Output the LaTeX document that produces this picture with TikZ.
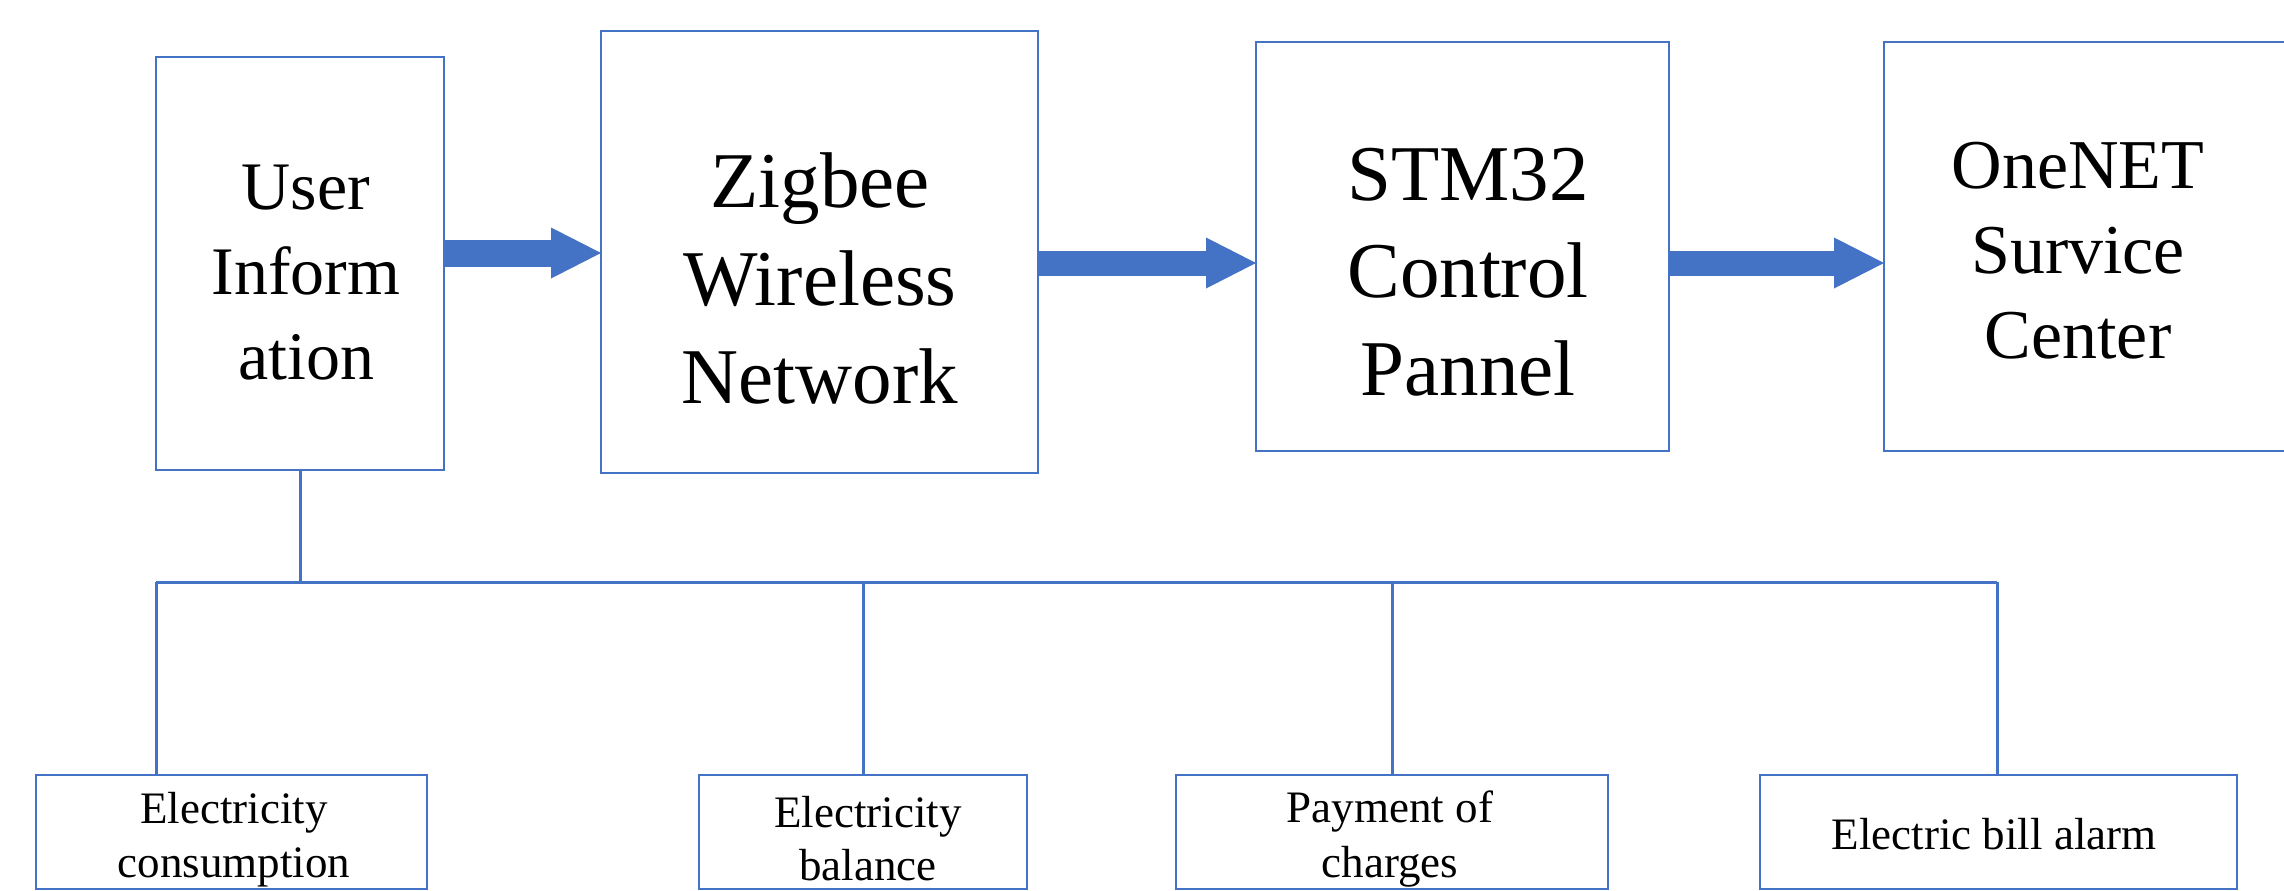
\documentclass[tikz,border=0pt]{standalone}
\usepackage{fontspec}
\setmainfont{Liberation Serif}
\usetikzlibrary{arrows.meta}
\definecolor{cblue}{HTML}{4472C4}
\tikzset{
  box/.style={draw=cblue, line width=2pt, inner sep=0pt, outer sep=0pt},
  txt/.style={anchor=base, align=center, inner sep=0pt, text=black},
  conn/.style={draw=cblue, line width=3pt},
  bigarrow/.style={draw=cblue, line width=#1pt,
    -{Triangle[length=50pt, width=51pt, line width=0pt, fill=cblue, color=cblue]}},
}
\begin{document}
\begin{tikzpicture}[x=1pt,y=-1pt]
\useasboundingbox (0,0) rectangle (2284,891);
% top boxes
\node[box, minimum width=288pt, minimum height=413pt] (user) at (300,263.5) {};
\node[box, minimum width=437pt, minimum height=442pt] (zig) at (819.5,252) {};
\node[box, minimum width=413pt, minimum height=409pt] (stm) at (1462.5,246.5) {};
\node[box, minimum width=416pt, minimum height=409pt] (one) at (2092,246.5) {};
% top texts (anchor base = baseline of last line)
\node[txt, font=\fontsize{68}{85}\selectfont] (usert) at (306,379) {User\\Inform\\ation};
\node[txt, font=\fontsize{79}{98}\selectfont] (zigt) at (820,403) {Zigbee\\Wireless\\Network};
\node[txt, font=\fontsize{79}{97.5}\selectfont] (stmt) at (1468,395) {STM32\\Control\\Pannel};
\node[txt, font=\fontsize{70}{85}\selectfont] (onet) at (2078,358) {OneNET\\Survice\\Center};
% bottom boxes
\node[box, minimum width=391pt, minimum height=114pt] (b1) at (231.5,832) {};
\node[box, minimum width=328pt, minimum height=114pt] (b2) at (863,832) {};
\node[box, minimum width=432pt, minimum height=114pt] (b3) at (1392,832) {};
\node[box, minimum width=477pt, minimum height=114pt] (b4) at (1998.5,832) {};
\node[txt, font=\fontsize{45}{54}\selectfont] (b1t) at (234,877) {Electricity\\consumption};
\node[txt, font=\fontsize{45}{53}\selectfont] (b2t) at (868,880) {Electricity\\balance};
\node[txt, font=\fontsize{45}{55}\selectfont] (b3t) at (1390,877) {Payment of\\charges};
\node[txt, font=\fontsize{45}{54}\selectfont] (b4t) at (1994,849) {Electric bill alarm};
% arrows
\draw[bigarrow=27] (user.east |- 0,253) -- (zig.west |- 0,253);
\draw[bigarrow=25] (zig.east |- 0,263) -- (stm.west |- 0,263);
\draw[bigarrow=25] (stm.east |- 0,263) -- (one.west |- 0,263);
% tree
\coordinate (j1) at (156,582);
\coordinate (j4) at (1997,582);
\draw[conn] (user.south) -- (user.south |- j1);
\draw[conn] (j1) -- (j4);
\draw[conn] (j1) -- (j1 |- b1.north);
\draw[conn] (b2.north |- j1) -- (b2.north);
\draw[conn] (b3.north |- j1) -- (b3.north);
\draw[conn] (j4) -- (j4 |- b4.north);
\end{tikzpicture}
\end{document}
